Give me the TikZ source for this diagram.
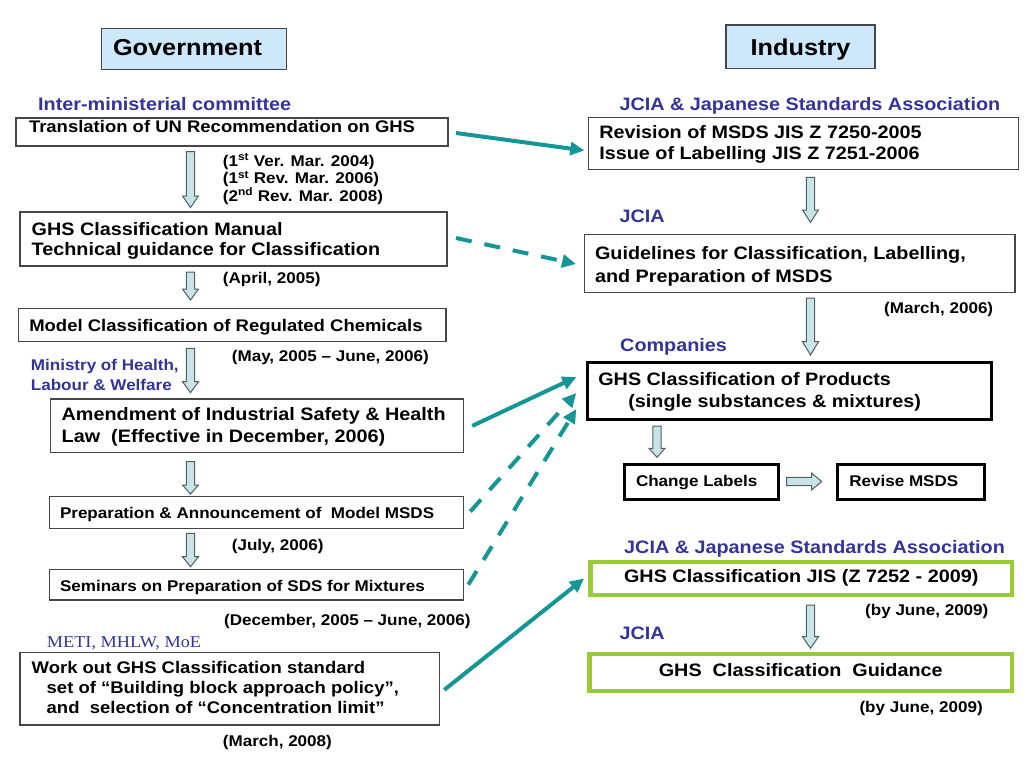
\documentclass[tikz,border=0pt]{standalone}
\usepackage{fontspec}
\setmainfont[FakeStretch=1.1]{Liberation Sans}
\newfontfamily\serifm[FakeStretch=1.1]{Liberation Serif}
\usetikzlibrary{arrows.meta}
\definecolor{boxgray}{RGB}{70,70,70}
\definecolor{lblue}{RGB}{51,51,153}
\definecolor{teal}{RGB}{20,150,150}
\definecolor{ghsgreen}{RGB}{153,204,51}
\definecolor{hdrfill}{RGB}{204,232,250}
\definecolor{blkfill}{RGB}{200,228,232}
\definecolor{blkdraw}{RGB}{80,95,95}
\newcommand\fs[2]{\fontsize{#1}{#2}\selectfont\bfseries}
\newcommand\tl[2]{\hbox to #1pt{\vtop{#2}\hss}}
\newcommand\tc[2]{\hbox to #1pt{\hss\vtop{#2}\hss}}
\newcommand\blkdown[4]{%
  \draw[blk] (#1-4.2,#2) -- (#1+4.2,#2) -- (#1+4.2,#3) -- (#1+8,#3) -- (#1,#4)
    -- (#1-8,#3) -- (#1-4.2,#3) -- cycle;}
\begin{document}
\begin{tikzpicture}[x=1pt,y=-1pt,
  box/.style={draw=boxgray, line width=1.2pt, inner ysep=0pt, outer sep=0pt, anchor=north west},
  thickbox/.style={box, draw=black, line width=3pt},
  greenbox/.style={box, draw=ghsgreen, line width=4.3pt},
  hdr/.style={box, fill=hdrfill},
  lbl/.style={anchor=base west, inner sep=0pt, text=lblue, font=\fs{18}{20}},
  date/.style={anchor=base west, inner sep=0pt, font=\fs{15.5}{17.5}},
  blk/.style={fill=blkfill, draw=blkdraw, line width=1pt, line join=miter},
  link/.style={draw=teal, line width=4pt, -{Triangle[length=14pt,width=13pt]}},
  dlink/.style={link, dash pattern=on 16pt off 13pt}]
\fill[white] (0,0) rectangle (1024,768);
\useasboundingbox (0,0) rectangle (1024,768);

% headers
\node[hdr, inner xsep=11.3pt, text height=27.7pt, text depth=13.3pt, font=\fs{23}{25}] (gov) at (101.7,28.3)
  {\tl{162.4}{\hbox{Government}}};
\node[hdr, inner xsep=5pt, text height=31pt, text depth=12.3pt, font=\fs{23}{25}] (ind) at (726,25)
  {\tc{139}{\hbox{Industry}}};

% left column
\node[lbl] (l1) at (38,110.7) {Inter-ministerial committee};
\node[box, inner xsep=13pt, text height=14pt, text depth=14pt, font=\fs{16.8}{20}] (b1) at (16,118)
  {\tl{406}{\hbox{Translation of UN Recommendation on GHS}}};
\node[box, inner xsep=11.7pt, text height=23pt, text depth=31pt, font=\fs{18}{20}] (b2) at (20,212)
  {\tl{403.6}{\hbox{GHS Classification Manual}\hbox{Technical guidance for Classification}}};
\node[box, inner xsep=11pt, text height=23.4pt, text depth=10pt, font=\fs{16.8}{20}] (b3) at (18.3,308.3)
  {\tl{405.7}{\hbox{Model Classification of Regulated Chemicals}}};
\node[box, inner xsep=11pt, text height=21.7pt, text depth=32pt, font=\fs{18}{22}] (b4) at (50.7,399)
  {\tl{390.6}{\hbox{Amendment of Industrial Safety \& Health}\hbox{Law\ \ (Effective in December, 2006)}}};
\node[box, inner xsep=10.7pt, text height=21.6pt, text depth=10pt, font=\fs{15.5}{18}] (b5) at (49.3,496.7)
  {\tl{392.6}{\hbox{Preparation \& Announcement of\ \ Model MSDS}}};
\node[box, inner xsep=10.7pt, text height=21.7pt, text depth=9pt, font=\fs{15.5}{18}] (b6) at (49.3,569.3)
  {\tl{392.6}{\hbox{Seminars on Preparation of SDS for Mixtures}}};
\node[box, inner xsep=11.7pt, text height=20.8pt, text depth=51.5pt, font=\fs{16.8}{20}] (b7) at (20,652.7)
  {\tl{395.9}{\hbox{Work out GHS Classification standard}\hbox{\hskip15pt set of “Building block approach policy”,}\hbox{\hskip15pt and\ \ selection of “Concentration limit”}}};

\node[date] (d1) at (222.7,166) {\vtop{\hbox{(1\textsuperscript{st} Ver. Mar. 2004)}\hbox{(1\textsuperscript{st} Rev. Mar. 2006)}\hbox{(2\textsuperscript{nd} Rev. Mar. 2008)}}};
\node[date] (d2) at (222.7,283.3) {(April, 2005)};
\node[date] (d3) at (231.7,361) {(May, 2005 – June, 2006)};
\node[date] (d4) at (231.7,550.7) {(July, 2006)};
\node[date] (d5) at (224,625.7) {(December, 2005 – June, 2006)};
\node[date] (d6) at (222.7,746.7) {(March, 2008)};
\node[lbl, font=\fs{15.5}{20}] (l7) at (30.7,370.7) {\vtop{\hbox{Ministry of Health,}\hbox{Labour \& Welfare}}};
\node[lbl, font=\serifm\fontsize{16.6}{20}\selectfont] (l8) at (46.7,647.7) {METI, MHLW, MoE};

\blkdown{190.5}{151.5}{196}{207.5}
\blkdown{190.5}{272}{289}{300}
\blkdown{190.5}{348.3}{381.7}{392.7}
\blkdown{190.5}{461.7}{485}{494}
\blkdown{190.5}{533.3}{556.7}{566.7}

% right column
\node[lbl] (l2) at (619.3,110.7) {JCIA \& Japanese Standards Association};
\node[box, inner xsep=11pt, text height=20.6pt, text depth=31pt, font=\fs{18}{21}] (r1) at (588.3,117.7)
  {\tl{408}{\hbox{Revision of MSDS JIS Z 7250-2005}\hbox{Issue of Labelling JIS Z 7251-2006}}};
\node[lbl] (l3) at (619.3,222.7) {JCIA};
\node[box, inner xsep=10.7pt, text height=25pt, text depth=33.4pt, font=\fs{18}{23.4}] (r2) at (584.3,234.3)
  {\tl{409.3}{\hbox{Guidelines for Classification, Labelling,}\hbox{and Preparation of MSDS}}};
\node[date] (d7) at (884,313.3) {(March, 2006)};
\node[lbl] (l4) at (620,351) {Companies};
\node[thickbox, inner xsep=11pt, text height=22.3pt, text depth=34.3pt, font=\fs{18}{22.3}] (r3) at (587.3,362.7)
  {\tl{382.4}{\hbox{GHS Classification of Products}\hbox{\hskip30pt(single substances \& mixtures)}}};
\node[thickbox, inner xsep=12pt, text height=21.7pt, text depth=13pt, font=\fs{15.5}{18}] (cl) at (624,464.3)
  {\tl{130.3}{\hbox{Change Labels}}};
\node[thickbox, inner xsep=12pt, text height=21.7pt, text depth=13pt, font=\fs{15.5}{18}] (rm) at (837.3,464.3)
  {\tl{122.7}{\hbox{Revise MSDS}}};
\node[lbl] (l5) at (624,553.3) {JCIA \& Japanese Standards Association};
\node[greenbox, inner xsep=10pt, text height=20.7pt, text depth=12.3pt, font=\fs{18}{20}] (r4) at (590.5,562)
  {\tc{401.5}{\hbox{GHS Classification JIS (Z 7252 - 2009)}}};
\node[date] (d8) at (865,615) {(by June, 2009)};
\node[lbl] (l6) at (619.3,639.3) {JCIA};
\node[greenbox, inner xsep=10pt, text height=23pt, text depth=14pt, font=\fs{18}{20}] (r5) at (589.5,653.7)
  {\tc{402.5}{\hbox{GHS\ \ Classification\ \ Guidance}}};
\node[date] (d9) at (859.3,712.7) {(by June, 2009)};

\blkdown{810.5}{177.3}{210}{222.3}
\blkdown{810.5}{298}{341.7}{355}
\blkdown{657}{426}{448.3}{457.3}
\blkdown{810.5}{605}{636.7}{648.3}
\draw[blk] (786.7,477.3) -- (811.7,477.3) -- (811.7,473.2) -- (821.7,481.5) -- (811.7,489.8)
  -- (811.7,485.7) -- (786.7,485.7) -- cycle;

% connectors
\draw[link]  ([xshift=8pt,yshift=-1pt]b1.east) -- ([xshift=-4pt,yshift=-7pt]r1.west);
\draw[dlink] ([xshift=9pt,yshift=1pt]b2.east) -- ([xshift=-8.3pt,yshift=-0.5pt]r2.west);
\draw[link]  ([xshift=9pt]b4.east) -- ([xshift=-11pt,yshift=14pt]r3.west);
\draw[dlink] ([xshift=7pt,yshift=1pt]b5.east) -- ([xshift=-11pt,yshift=-2pt]r3.west);
\draw[dlink] ([xshift=5pt]b6.east) -- ([xshift=-11pt,yshift=-18pt]r3.west);
\draw[link]  ([xshift=5pt,yshift=-1pt]b7.east) -- ([xshift=-6.5pt]r4.west);
\end{tikzpicture}
\end{document}
